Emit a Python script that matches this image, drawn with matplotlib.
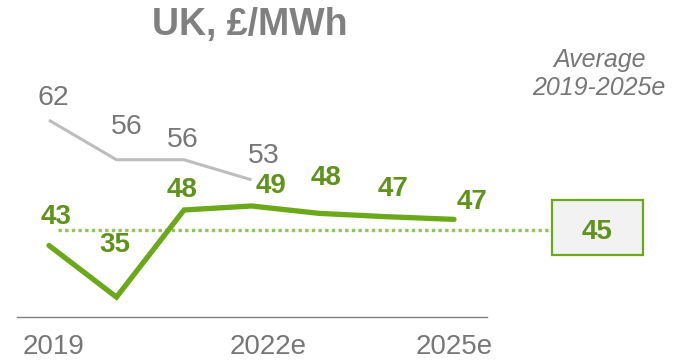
import matplotlib
matplotlib.use("Agg")
import matplotlib.pyplot as plt
from matplotlib.patches import Rectangle

plt.rcParams['font.family'] = ['Liberation Sans', 'DejaVu Sans']

years = ["2019", "2020", "2021", "2022e", "2023e", "2024e", "2025e"]
# line positions (unrounded) and the printed labels
green_vals = [42.7, 35.0, 48.0, 48.6, 47.5, 47.0, 46.6]
green_labels = ["43", "35", "48", "49", "48", "47", "47"]
gray_vals = [61.4, 55.5, 55.5, 52.5]
gray_labels = ["62", "56", "56", "53"]
average = 45
tick_idx = [0, 3, 6]
tick_labels = ["2019", "2022e", "2025e"]
title = "UK, £/MWh"
avg_label = "Average\n2019-2025e"

W, H = 681, 361
fig = plt.figure(figsize=(W / 100, H / 100), dpi=100)
ax = fig.add_axes([0, 0, 1, 1])
ax.set_axis_off()

# pixel mapping
x0, dx = 49, 67.5
yref, vref, dy = 210, 48, 6.7
ax.set_xlim(-x0 / dx, (W - x0) / dx)
ax.set_ylim(vref - (H - yref) / dy, vref + yref / dy)

GREEN = "#6ba81a"
GREEN_TXT = "#5f931c"
GREEN_DOT = "#93c35a"
GRAY_LINE = "#bdbdbd"
GRAY_TXT = "#777777"

xs_g = list(range(len(green_vals)))
xs_gr = list(range(len(gray_vals)))

ax.plot(xs_gr, gray_vals, color=GRAY_LINE, lw=2.2, solid_capstyle='butt', zorder=2)
ax.plot(xs_g, green_vals, color=GREEN, lw=3.8, solid_capstyle='round', solid_joinstyle='miter', zorder=3)

# average dotted line from first point to the box
box_left_x = (552 - x0) / dx
ax.plot([(58 - x0) / dx, box_left_x], [average, average], color=GREEN_DOT, lw=2.4,
        linestyle=(0, (1.0, 1.0)), zorder=1)

# box
box_right_x = (643 - x0) / dx
half_h = 27.5 / dy
ax.add_patch(Rectangle((box_left_x, average + 0.4 - half_h), box_right_x - box_left_x, 2 * half_h,
                       facecolor="#f2f2f2", edgecolor=GREEN, lw=1.6, zorder=4))
ax.text((box_left_x + box_right_x) / 2, average - 0.3, str(average), color=GREEN_TXT,
        fontsize=20, fontweight='bold', ha='center', va='center', zorder=5)

# label offsets in points (dx, dy)
green_off = [(5, 20.5), (-1, 37.4), (-1.4, 14.4), (14, 14.4), (5, 25.5), (4.7, 20), (13, 12.5)]
gray_off = [(2.9, 15.8), (7.6, 23.5), (-0.7, 14.2), (9, 17.3)]
for x, v, lab, (ox, oy) in zip(xs_g, green_vals, green_labels, green_off):
    ax.annotate(lab, (x, v), xytext=(ox, oy), textcoords='offset points',
                ha='center', va='center', fontsize=20, fontweight='bold', color=GREEN_TXT)
for x, v, lab, (ox, oy) in zip(xs_gr, gray_vals, gray_labels, gray_off):
    ax.annotate(lab, (x, v), xytext=(ox, oy), textcoords='offset points',
                ha='center', va='center', fontsize=20.5, color=GRAY_TXT)

# baseline
fig.add_artist(plt.Line2D([17 / W, 487 / W], [1 - 317 / H, 1 - 317 / H],
                          color="#808080", lw=1.0))

# tick labels (pixel offsets from the point position)
tick_off = [5, 16.5, 0]
for i, lab, o in zip(tick_idx, tick_labels, tick_off):
    fig.text((x0 + i * dx + o) / W, 1 - 347 / H, lab, ha='center', va='center',
             fontsize=20, color=GRAY_TXT)

fig.text(250 / W, 1 - 25 / H, title, ha='center', va='center', fontsize=27,
         fontweight='bold', color="#808080")
fig.text(599 / W, 1 - 74 / H, avg_label, ha='center', va='center', fontsize=18,
         style='italic', color=GRAY_TXT, linespacing=1.25)

fig.savefig("out.png", dpi=100)
